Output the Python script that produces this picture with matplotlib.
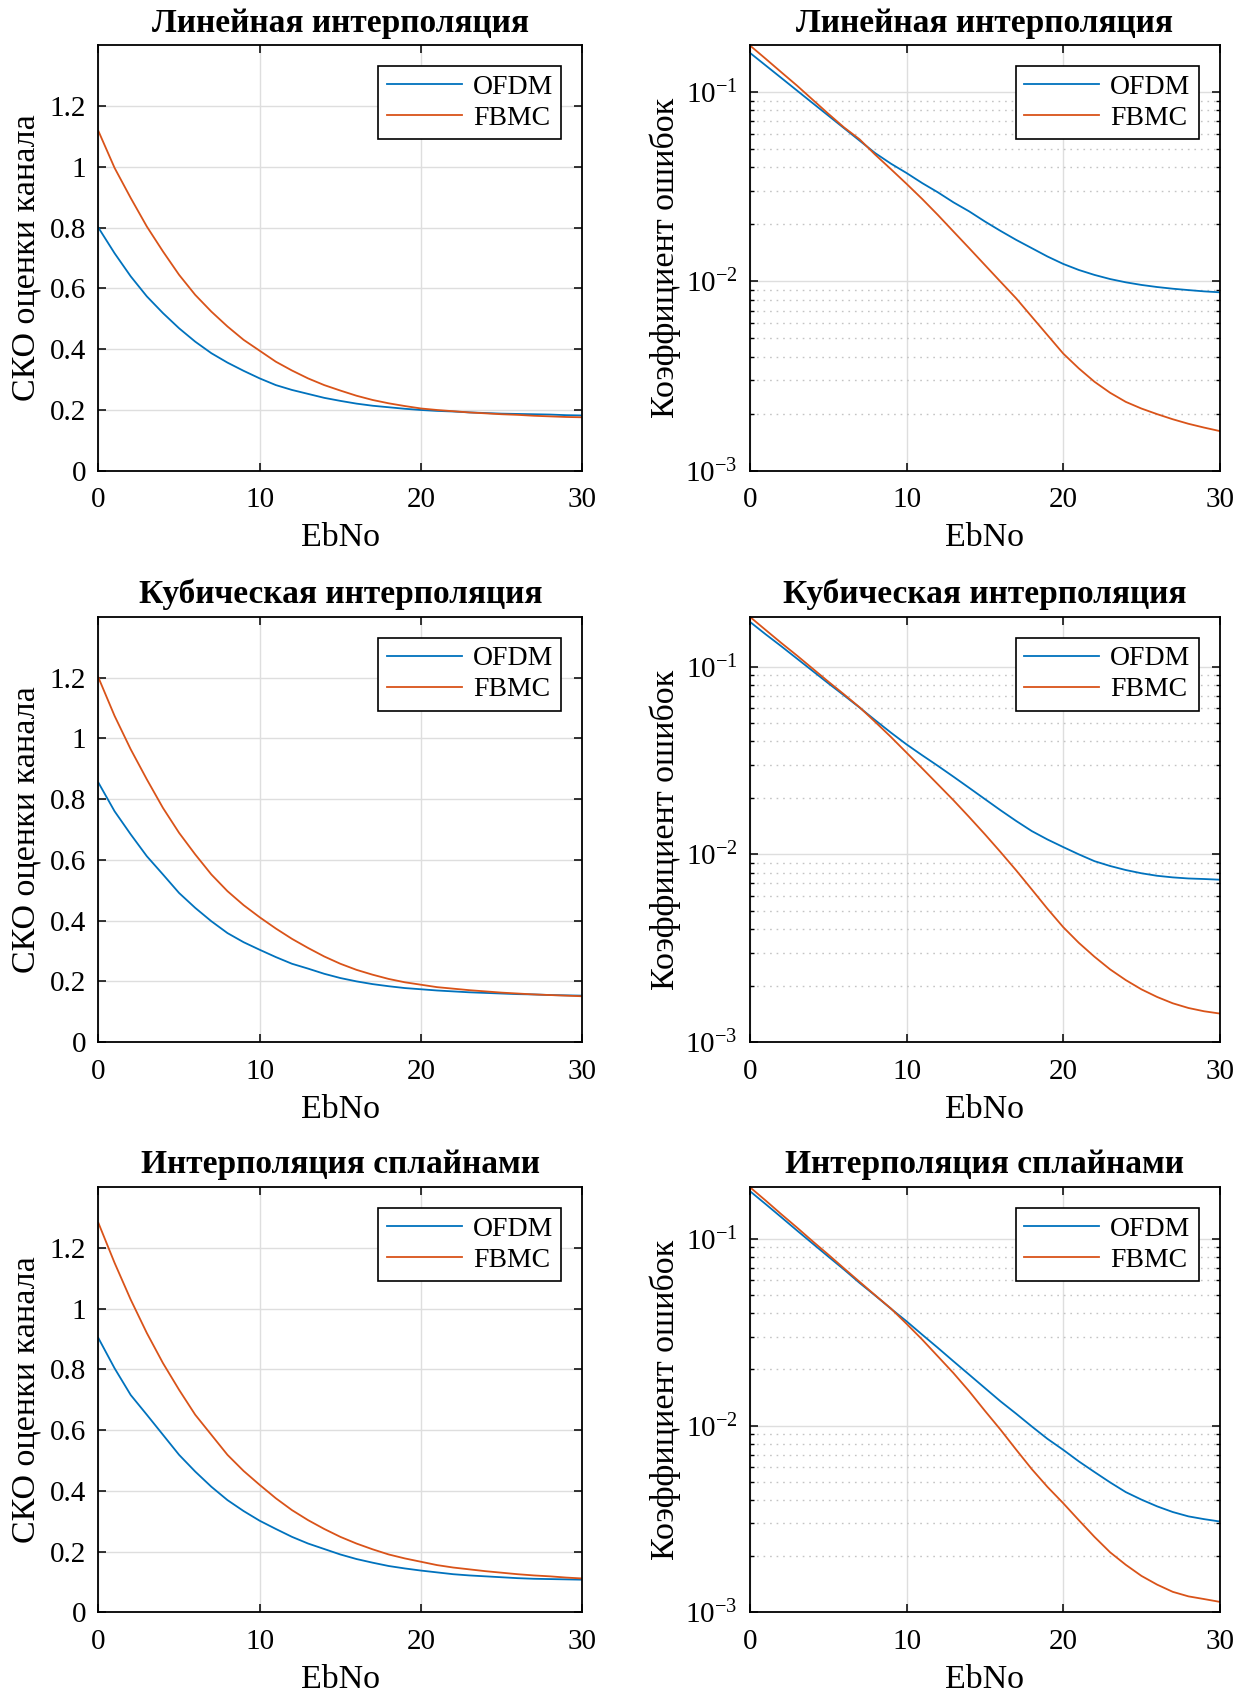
import numpy as np
import matplotlib.pyplot as plt
from matplotlib.ticker import LogLocator, NullFormatter, LogFormatterSciNotation

plt.rcParams['font.family'] = ['Liberation Serif', 'DejaVu Serif']
plt.rcParams['mathtext.fontset'] = 'custom'
plt.rcParams['mathtext.rm'] = 'Liberation Serif'
plt.rcParams['mathtext.it'] = 'Liberation Serif:italic'
plt.rcParams['mathtext.bf'] = 'Liberation Serif:bold'

# EbNo, dB
ebno = list(range(0, 31))

titles = ['Линейная интерполяция', 'Кубическая интерполяция', 'Интерполяция сплайнами']

# СКО оценки канала
mse_ofdm_lin = [0.80, 0.716, 0.64, 0.574, 0.519, 0.469, 0.425, 0.387, 0.356, 0.329, 0.304,
                0.282, 0.266, 0.253, 0.24, 0.23, 0.221, 0.214, 0.209, 0.204, 0.2,
                0.197, 0.195, 0.192, 0.19, 0.188, 0.187, 0.186, 0.185, 0.183, 0.182]
mse_fbmc_lin = [1.118, 0.997, 0.898, 0.804, 0.722, 0.645, 0.579, 0.524, 0.475, 0.431, 0.395,
                0.359, 0.33, 0.304, 0.282, 0.264, 0.247, 0.233, 0.222, 0.213, 0.205,
                0.2, 0.196, 0.192, 0.189, 0.186, 0.184, 0.181, 0.179, 0.177, 0.176]
mse_ofdm_cub = [0.854, 0.76, 0.684, 0.612, 0.552, 0.491, 0.442, 0.398, 0.359, 0.329, 0.304,
                0.28, 0.258, 0.242, 0.225, 0.211, 0.2, 0.191, 0.184, 0.178, 0.174,
                0.17, 0.167, 0.164, 0.162, 0.16, 0.158, 0.157, 0.155, 0.154, 0.153]
mse_fbmc_cub = [1.2, 1.074, 0.964, 0.865, 0.771, 0.689, 0.618, 0.552, 0.497, 0.451, 0.411,
                0.374, 0.34, 0.31, 0.282, 0.258, 0.238, 0.222, 0.208, 0.197, 0.189,
                0.181, 0.176, 0.171, 0.167, 0.163, 0.16, 0.157, 0.155, 0.153, 0.151]
mse_ofdm_spl = [0.903, 0.804, 0.716, 0.651, 0.585, 0.519, 0.464, 0.414, 0.37, 0.334, 0.302,
                0.275, 0.249, 0.227, 0.209, 0.191, 0.176, 0.164, 0.153, 0.145, 0.138,
                0.132, 0.126, 0.122, 0.119, 0.116, 0.113, 0.111, 0.11, 0.109, 0.108]
mse_fbmc_spl = [1.282, 1.151, 1.03, 0.92, 0.821, 0.733, 0.651, 0.585, 0.519, 0.466, 0.42,
                0.376, 0.337, 0.304, 0.275, 0.249, 0.227, 0.208, 0.191, 0.178, 0.167,
                0.156, 0.148, 0.142, 0.136, 0.131, 0.126, 0.122, 0.119, 0.115, 0.112]

# Коэффициент ошибок
ber_ofdm_lin = [0.1607, 0.138, 0.1185, 0.1017, 0.0873, 0.075, 0.0644, 0.0553, 0.0475, 0.0418, 0.0373,
                0.033, 0.0295, 0.0261, 0.0234, 0.0207, 0.01846, 0.01655, 0.01496, 0.01352, 0.01236,
                0.01148, 0.01081, 0.01028, 0.00988, 0.00957, 0.00933, 0.00914, 0.00899, 0.00885, 0.00875]
ber_fbmc_lin = [0.1758, 0.1496, 0.127, 0.108, 0.091, 0.0767, 0.065, 0.0562, 0.0466, 0.0391, 0.0327,
                0.0272, 0.0224, 0.0183, 0.01496, 0.0122, 0.00995, 0.00813, 0.0065, 0.0052, 0.00416,
                0.00347, 0.00295, 0.00258, 0.00231, 0.00213, 0.00199, 0.00187, 0.00177, 0.00169, 0.00162]
ber_ofdm_cub = [0.173, 0.1486, 0.1283, 0.1103, 0.0948, 0.0815, 0.0703, 0.0605, 0.0518, 0.0445, 0.0385,
                0.0337, 0.0296, 0.0259, 0.0226, 0.0197, 0.01718, 0.01506, 0.0133, 0.012, 0.01094,
                0.01, 0.0092, 0.00867, 0.00825, 0.00793, 0.00769, 0.00754, 0.00744, 0.00739, 0.00733]
ber_fbmc_cub = [0.184, 0.1567, 0.1336, 0.1145, 0.0976, 0.0832, 0.0712, 0.0607, 0.0507, 0.0422, 0.0348,
                0.0287, 0.0236, 0.0194, 0.0158, 0.0128, 0.01029, 0.00822, 0.0065, 0.00513, 0.0041,
                0.00338, 0.00285, 0.00244, 0.00214, 0.00191, 0.00174, 0.00161, 0.00152, 0.00146, 0.00142]
ber_ofdm_spl = [0.18, 0.1535, 0.1306, 0.1109, 0.0944, 0.0804, 0.0686, 0.0581, 0.0497, 0.0423, 0.0362,
                0.0307, 0.0261, 0.0221, 0.01876, 0.01591, 0.0135, 0.01159, 0.0099, 0.0085, 0.00743,
                0.00644, 0.00565, 0.00497, 0.00441, 0.00402, 0.0037, 0.00345, 0.00327, 0.00316, 0.00307]
ber_fbmc_spl = [0.189, 0.1604, 0.1355, 0.115, 0.0971, 0.0824, 0.0696, 0.0589, 0.0499, 0.0424, 0.0351,
                0.0289, 0.0235, 0.0191, 0.01528, 0.01202, 0.00952, 0.00744, 0.00585, 0.0047, 0.00385,
                0.00312, 0.00254, 0.0021, 0.0018, 0.00157, 0.00141, 0.00129, 0.00122, 0.00118, 0.00114]

mse = [(mse_ofdm_lin, mse_fbmc_lin), (mse_ofdm_cub, mse_fbmc_cub), (mse_ofdm_spl, mse_fbmc_spl)]
ber = [(ber_ofdm_lin, ber_fbmc_lin), (ber_ofdm_cub, ber_fbmc_cub), (ber_ofdm_spl, ber_fbmc_spl)]

blue = '#0072BD'
orange = '#D95319'

fig = plt.figure(figsize=(12.51, 16.97), dpi=100)

bottoms = [0.7226, 0.3859, 0.0498]
h = 0.2506


def style(ax, title, ylabel, ylab_x):
    ax.set_xlim(0, 30)
    ax.set_xticks([0, 10, 20, 30])
    ax.tick_params(which='both', direction='in', top=True, right=True, labelsize=21)
    ax.tick_params(axis='x', pad=12)
    ax.tick_params(axis='y', pad=9)
    ax.tick_params(which='major', length=6, width=1.1)
    ax.tick_params(which='minor', length=3, width=1.0)
    for s in ax.spines.values():
        s.set_linewidth(1.3)
    ax.grid(True, which='major', color='#dedede', lw=1.0)
    ax.set_axisbelow(True)
    ax.set_xlabel('EbNo', fontsize=24.5)
    ax.xaxis.set_label_coords(0.5, -0.158)
    ax.xaxis.label.set_va('center')
    ax.set_ylabel(ylabel, fontsize=24.5)
    ax.yaxis.set_label_coords(ylab_x, 0.5)
    ax.yaxis.label.set_va('center')
    leg = ax.legend(['OFDM', 'FBMC'], loc='upper right', fontsize=20, handlelength=2.7,
                    fancybox=False, framealpha=1, edgecolor='black', borderaxespad=0.75,
                    labelspacing=0.2, handletextpad=0.4, borderpad=0.3)
    leg.get_frame().set_linewidth(1.2)
    ax.set_title(title, fontsize=24, fontweight='bold', pad=10)


for i in range(3):
    # левый столбец: СКО
    ax = fig.add_axes([0.0787, bottoms[i], 0.3867, h])
    ax.plot(ebno, mse[i][0], color=blue, lw=1.3)
    ax.plot(ebno, mse[i][1], color=orange, lw=1.3)
    ax.set_ylim(0, 1.4)
    ax.set_yticks([0, 0.2, 0.4, 0.6, 0.8, 1.0, 1.2])
    ax.set_yticklabels(['0', '0.2', '0.4', '0.6', '0.8', '1', '1.2'])
    style(ax, titles[i], 'СКО оценки канала', -0.15)

    # правый столбец: коэффициент ошибок
    ax = fig.add_axes([0.5995, bottoms[i], 0.3755, h])
    ax.semilogy(ebno, ber[i][0], color=blue, lw=1.3)
    ax.semilogy(ebno, ber[i][1], color=orange, lw=1.3)
    ax.set_ylim(1e-3, max(ber[i][0] + ber[i][1]))
    ax.yaxis.set_major_locator(LogLocator(base=10, numticks=10))
    ax.yaxis.set_minor_locator(LogLocator(base=10, subs=np.arange(2, 10), numticks=10))
    ax.yaxis.set_major_formatter(LogFormatterSciNotation())
    ax.yaxis.set_minor_formatter(NullFormatter())
    ax.grid(True, which='minor', axis='y', color='#c4c4c4', lw=1.0, ls=(0, (1.2, 3.5)))
    style(ax, titles[i], 'Коэффициент ошибок', -0.18)

fig.savefig('out.png', dpi=100)
